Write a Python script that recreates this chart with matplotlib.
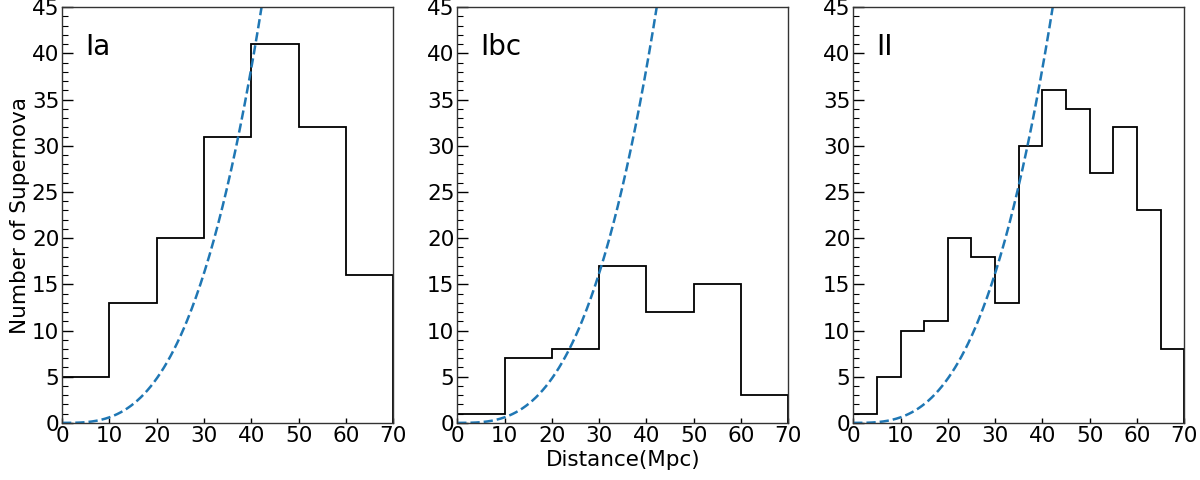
import matplotlib.pyplot as plt
import numpy as np

# histogram data
edges_ia = [0, 10, 20, 30, 40, 50, 60, 70]
counts_ia = [5, 13, 20, 31, 41, 32, 16]

edges_ibc = [0, 10, 20, 30, 40, 50, 60, 70]
counts_ibc = [1, 7, 8, 17, 12, 15, 3]

edges_ii = [0, 5, 10, 15, 20, 25, 30, 35, 40, 45, 50, 55, 60, 65, 70]
counts_ii = [1, 5, 10, 11, 20, 18, 13, 30, 36, 34, 27, 32, 23, 8]

# volume-scaling model curve N = k * d^3
model_k = 6.0e-4

panels = [("Ia", edges_ia, counts_ia),
          ("Ibc", edges_ibc, counts_ibc),
          ("II", edges_ii, counts_ii)]

fig = plt.figure(figsize=(12, 4.8), dpi=100)
lefts = [0.0517, 0.381, 0.711]
width = 0.276
bottom, height = 0.119, 0.866

d = np.linspace(0, 70, 300)
for i, (name, edges, counts) in enumerate(panels):
    ax = fig.add_axes([lefts[i], bottom, width, height])
    ax.stairs(counts, edges, baseline=0, color="black", linewidth=1.3)
    ax.plot(d, model_k * d**3, "--", color="#1f77b4", linewidth=1.8)
    ax.set_xlim(0, 70)
    ax.set_ylim(0, 45)
    ax.set_xticks(range(0, 71, 10))
    ax.set_yticks(range(0, 46, 5))
    ax.set_yticks(range(0, 46, 1), minor=True)
    ax.tick_params(which="both", direction="in", labelsize=15.5, pad=2)
    ax.tick_params(axis="y", which="major", length=8, width=1)
    ax.tick_params(axis="y", which="minor", length=4.5, width=0.8)
    ax.tick_params(axis="x", which="major", length=3.8, width=1)
    for s in ax.spines.values():
        s.set_linewidth(1.0)
        s.set_color("#333333")
    ax.text(0.07, 0.905, name, transform=ax.transAxes, fontsize=20,
            va="center", ha="left")
    if i == 0:
        ax.set_ylabel("Number of Supernova", fontsize=15.5, labelpad=1)
    if i == 1:
        ax.set_xlabel("Distance(Mpc)", fontsize=15.5, labelpad=3)

fig.savefig("out.png")
